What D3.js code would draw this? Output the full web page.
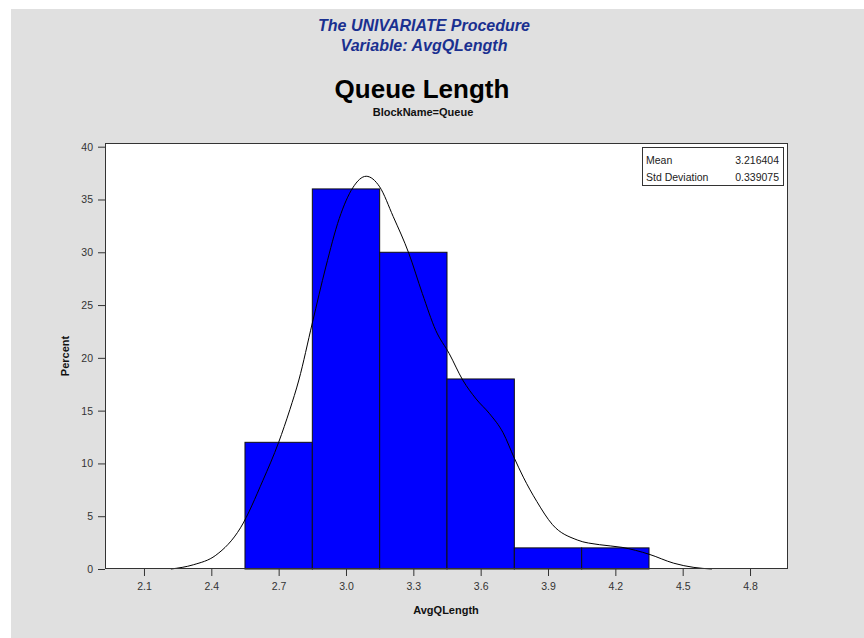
<!DOCTYPE html>
<meta charset="utf-8">
<style>
body { margin: 0; background: #fff; }
text { font-family: Arial, "Liberation Sans", sans-serif; }
</style>
<body>
<script src="https://cdn.jsdelivr.net/npm/d3@7"></script>
<script>
// histogram bins (AvgQLength) and percent per bin
var binStarts = [2.55, 2.85, 3.15, 3.45, 3.75, 4.05];
var binWidth = 0.3;
var percents = [12, 36, 30, 18, 2, 2];

// kernel density curve
var curveX = [2.22, 2.32, 2.42, 2.53, 2.63, 2.70, 2.75, 2.79, 2.85, 2.91, 2.97, 3.03, 3.09, 3.15, 3.21,
              3.28, 3.34, 3.40, 3.46, 3.52, 3.58, 3.64, 3.70, 3.75, 3.79, 3.85, 3.92, 4.03, 4.13, 4.23,
              4.35, 4.46, 4.55, 4.63];
var curveY = [0, 0.4, 1.3, 3.9, 8.4, 12.0, 15.1, 17.9, 23.3, 28.6, 33.2, 36.1, 37.2, 36.2, 33.4,
              29.9, 26.1, 22.6, 20.4, 17.9, 16.1, 14.7, 12.9, 10.5, 8.7, 6.4, 4.2, 2.75, 2.3, 2.05,
              1.4, 0.55, 0.15, 0];

var xTicks = [2.1, 2.4, 2.7, 3.0, 3.3, 3.6, 3.9, 4.2, 4.5, 4.8];
var yTicks = [0, 5, 10, 15, 20, 25, 30, 35, 40];

var statNames = ["Mean", "Std Deviation"];
var statValues = ["3.216404", "0.339075"];

var width = 864, height = 638;
var plotL = 105, plotR = 788, plotT = 143, plotB = 569;

var svg = d3.select("body").append("svg")
    .attr("width", width)
    .attr("height", height);

svg.append("rect")
    .attr("x", 11).attr("y", 9)
    .attr("width", width - 11).attr("height", height - 9)
    .attr("fill", "#e0e0e0");

// titles
svg.append("text").attr("x", 424).attr("y", 31)
    .attr("text-anchor", "middle").attr("font-size", 16)
    .attr("font-weight", "bold").attr("font-style", "italic")
    .attr("fill", "#1a3090").text("The UNIVARIATE Procedure");
svg.append("text").attr("x", 424).attr("y", 51)
    .attr("text-anchor", "middle").attr("font-size", 16)
    .attr("font-weight", "bold").attr("font-style", "italic")
    .attr("fill", "#1a3090").text("Variable: AvgQLength");
svg.append("text").attr("x", 422).attr("y", 98)
    .attr("text-anchor", "middle").attr("font-size", 26)
    .attr("font-weight", "bold").attr("fill", "#000").text("Queue Length");
svg.append("text").attr("x", 423).attr("y", 116)
    .attr("text-anchor", "middle").attr("font-size", 11)
    .attr("font-weight", "bold").attr("fill", "#111").text("BlockName=Queue");

var x = d3.scaleLinear()
    .domain([2.1 - 39 / 224.6, 4.8 + 38 / 224.6])
    .range([plotL, plotR]);
var y = d3.scaleLinear()
    .domain([0, 40])
    .range([plotB, 146.7]);

// plot area
svg.append("rect")
    .attr("x", plotL).attr("y", plotT)
    .attr("width", plotR - plotL).attr("height", plotB - plotT)
    .attr("fill", "#fff");

// bars
svg.append("g").selectAll("rect")
    .data(percents)
    .join("rect")
    .attr("x", function(d, i) { return x(binStarts[i]); })
    .attr("y", function(d) { return y(d); })
    .attr("width", function(d, i) { return x(binStarts[i] + binWidth) - x(binStarts[i]); })
    .attr("height", function(d) { return y(0) - y(d); })
    .attr("fill", "#0000ff")
    .attr("stroke", "#111")
    .attr("stroke-width", 1);

// density curve
var line = d3.line()
    .x(function(d, i) { return x(curveX[i]); })
    .y(function(d) { return y(d); })
    .curve(d3.curveMonotoneX);
svg.append("path")
    .attr("d", line(curveY))
    .attr("fill", "none")
    .attr("stroke", "#000")
    .attr("stroke-width", 1);

// frame
svg.append("rect")
    .attr("x", plotL + 0.5).attr("y", plotT + 0.5)
    .attr("width", plotR - plotL - 1).attr("height", plotB - plotT - 1)
    .attr("fill", "none").attr("stroke", "#333");

// axes
var xAxis = svg.append("g")
    .attr("transform", "translate(0," + plotB + ")")
    .call(d3.axisBottom(x).tickValues(xTicks).tickFormat(d3.format(".1f"))
      .tickSize(7).tickPadding(7));
var yAxis = svg.append("g")
    .attr("transform", "translate(" + plotL + ",0)")
    .call(d3.axisLeft(y).tickValues(yTicks).tickSize(7).tickPadding(5));
[xAxis, yAxis].forEach(function(g) {
  g.select(".domain").remove();
  g.selectAll(".tick line").attr("stroke", "#333");
  g.selectAll(".tick text").attr("fill", "#333").attr("font-size", 10.5)
    .attr("font-family", "Arial, 'Liberation Sans', sans-serif");
});

svg.append("text").attr("x", 446).attr("y", 614)
    .attr("text-anchor", "middle").attr("font-size", 11)
    .attr("font-weight", "bold").attr("fill", "#111").text("AvgQLength");
svg.append("text")
    .attr("transform", "translate(69,356) rotate(-90)")
    .attr("text-anchor", "middle").attr("font-size", 11)
    .attr("font-weight", "bold").attr("fill", "#111").text("Percent");

// stats box
var box = svg.append("g");
box.append("rect")
    .attr("x", 642.5).attr("y", 147.5)
    .attr("width", 141).attr("height", 38)
    .attr("fill", "#fff").attr("stroke", "#333");
statNames.forEach(function(n, i) {
  box.append("text").attr("x", 646).attr("y", 164 + i * 17)
    .attr("font-size", 10.5).attr("fill", "#222").text(n);
  box.append("text").attr("x", 779).attr("y", 164 + i * 17)
    .attr("text-anchor", "end").attr("font-size", 10.5)
    .attr("fill", "#222").text(statValues[i]);
});
</script>
</body>
